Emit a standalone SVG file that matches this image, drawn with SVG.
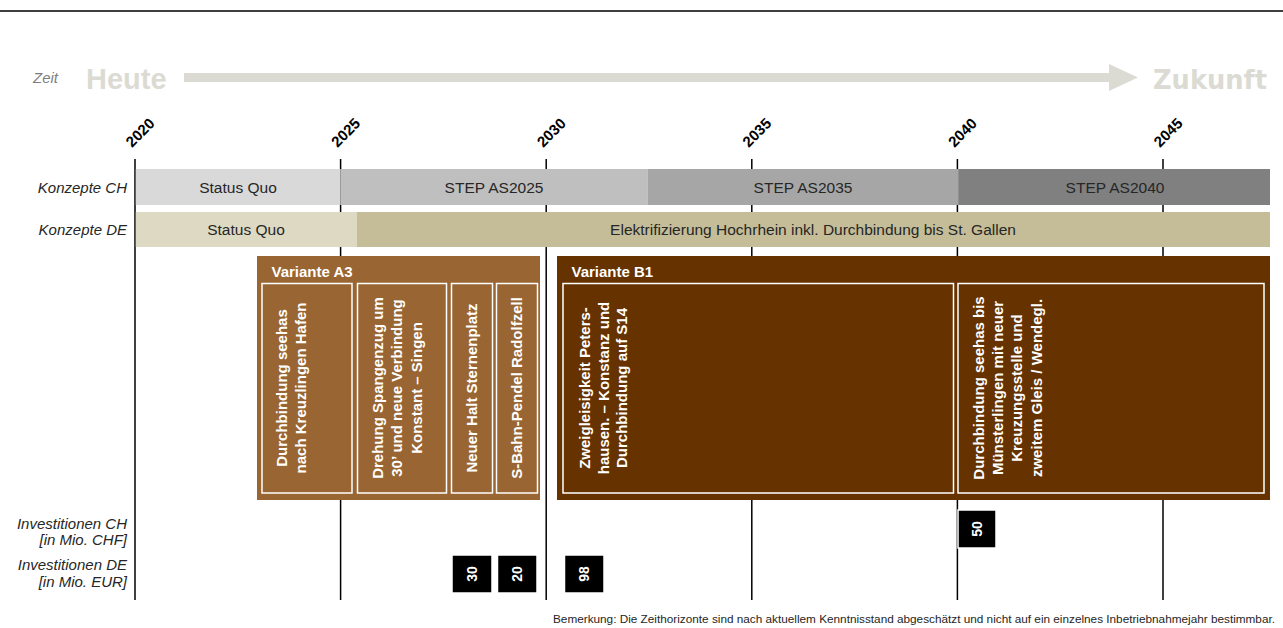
<svg xmlns="http://www.w3.org/2000/svg" width="1283" height="628" viewBox="0 0 1283 628">
  <style>
    .sans { font-family: "Liberation Sans", Arial, sans-serif; }
    .rowlabel { font-family: "Liberation Sans", Arial, sans-serif; font-style: italic; font-size: 15px; fill: #262626; text-anchor: end; }
    .year { font-family: "Liberation Sans", Arial, sans-serif; font-weight: bold; font-size: 15px; fill: #000; }
    .grid { stroke: #000; stroke-width: 1.5; }
    .bartext { font-family: "Liberation Sans", Arial, sans-serif; font-size: 15.5px; fill: #262626; text-anchor: middle; }
    .title { font-family: "Liberation Sans", Arial, sans-serif; font-weight: bold; font-size: 15px; fill: #fff; }
    .inner { fill: none; stroke: #fff; stroke-width: 1.5; }
    .vtext { font-family: "Liberation Sans", Arial, sans-serif; font-weight: bold; font-size: 15px; fill: #fff; text-anchor: middle; }
    .numbox { fill: #000; stroke: #fff; stroke-width: 1.5; }
    .numtext { font-family: "Liberation Sans", Arial, sans-serif; font-weight: bold; font-size: 14px; fill: #fff; text-anchor: middle; }
    .pale { fill: #dcdbd3; }
  </style>

  <rect width="1283" height="628" fill="#fff"/>

  <!-- header rule -->
  <line x1="0" y1="11" x2="1283" y2="11" stroke="#000" stroke-width="1.5"/>

  <!-- time axis: Heute -> Zukunft -->
  <g id="time-axis">
    <text x="33" y="83" class="sans" font-style="italic" font-size="15" fill="#7f7f7f">Zeit</text>
    <text x="86" y="88.5" class="sans pale" font-weight="bold" font-size="29">Heute</text>
    <text x="1153" y="88.5" class="pale" font-family="'DejaVu Sans', Verdana, sans-serif" font-weight="bold" font-size="27" textLength="114" lengthAdjust="spacingAndGlyphs">Zukunft</text>
  </g>

  <!-- connectors: axis arrow and year grid lines -->
  <g id="connectors">
    <rect x="184" y="73" width="926" height="9" class="pale"/>
    <polygon points="1109,64 1138,77.5 1109,91" class="pale"/>
    <line x1="135" y1="159" x2="135" y2="600" class="grid"/>
    <line x1="340.6" y1="159" x2="340.6" y2="600" class="grid"/>
    <line x1="546.2" y1="159" x2="546.2" y2="600" class="grid"/>
    <line x1="751.8" y1="159" x2="751.8" y2="600" class="grid"/>
    <line x1="957.4" y1="159" x2="957.4" y2="600" class="grid"/>
    <line x1="1163" y1="159" x2="1163" y2="600" class="grid"/>
  </g>

  <!-- year labels -->
  <g id="years">
    <text class="year" transform="translate(132,148) rotate(-45)">2020</text>
    <text class="year" transform="translate(337.6,148) rotate(-45)">2025</text>
    <text class="year" transform="translate(543.2,148) rotate(-45)">2030</text>
    <text class="year" transform="translate(748.8,148) rotate(-45)">2035</text>
    <text class="year" transform="translate(954.4,148) rotate(-45)">2040</text>
    <text class="year" transform="translate(1160,148) rotate(-45)">2045</text>
  </g>

  <!-- row labels -->
  <g id="row-labels">
    <text x="127" y="193" class="rowlabel">Konzepte CH</text>
    <text x="127" y="235" class="rowlabel">Konzepte DE</text>
    <text x="127" y="529" class="rowlabel">Investitionen CH</text>
    <text x="127" y="545" class="rowlabel">[in Mio. CHF]</text>
    <text x="127" y="570" class="rowlabel">Investitionen DE</text>
    <text x="127" y="586.5" class="rowlabel">[in Mio. EUR]</text>
  </g>

  <!-- Konzepte CH -->
  <g id="ch-status-quo">
    <rect x="135.8" y="169" width="204.8" height="36" fill="#d9d9d9"/>
    <text x="238" y="192.5" class="bartext">Status Quo</text>
  </g>
  <g id="ch-step-as2025">
    <rect x="340.6" y="169" width="306.9" height="36" fill="#bfbfbf"/>
    <text x="494" y="192.5" class="bartext">STEP AS2025</text>
  </g>
  <g id="ch-step-as2035">
    <rect x="647.5" y="169" width="310.7" height="36" fill="#a6a6a6"/>
    <text x="803" y="192.5" class="bartext">STEP AS2035</text>
  </g>
  <g id="ch-step-as2040">
    <rect x="958.2" y="169" width="311.8" height="36" fill="#808080"/>
    <text x="1115" y="192.5" class="bartext">STEP AS2040</text>
  </g>

  <!-- Konzepte DE -->
  <g id="de-status-quo">
    <rect x="135.8" y="212" width="221.2" height="35" fill="#ddd9c3"/>
    <text x="246" y="234.5" class="bartext">Status Quo</text>
  </g>
  <g id="de-elektrifizierung">
    <rect x="357" y="212" width="913" height="35" fill="#c4bd97"/>
    <text x="813" y="234.5" class="bartext">Elektrifizierung Hochrhein inkl. Durchbindung bis St. Gallen</text>
  </g>

  <!-- Variante A3 -->
  <g id="variante-a3">
    <rect x="257" y="256" width="283" height="244" fill="#996633"/>
    <text x="271.5" y="276.5" class="title">Variante A3</text>
    <rect x="262" y="283.5" width="90" height="209.5" class="inner"/>
    <text class="vtext" transform="translate(287.3,388) rotate(-90)"><tspan x="0" dy="0">Durchbindung seehas</tspan><tspan x="0" dy="18.8">nach Kreuzlingen Hafen</tspan></text>
    <rect x="357.5" y="283.5" width="89" height="209.5" class="inner"/>
    <text class="vtext" transform="translate(382.5,388) rotate(-90)"><tspan x="0" dy="0">Drehung Spangenzug um</tspan><tspan x="0" dy="19.5">30’ und neue Verbindung</tspan><tspan x="0" dy="19.5">Konstant – Singen</tspan></text>
    <rect x="451.5" y="283.5" width="41" height="209.5" class="inner"/>
    <text class="vtext" transform="translate(477.3,388) rotate(-90)">Neuer Halt Sternenplatz</text>
    <rect x="496.5" y="283.5" width="41" height="209.5" class="inner"/>
    <text class="vtext" transform="translate(522.3,388) rotate(-90)">S-Bahn-Pendel Radolfzell</text>
  </g>

  <!-- Variante B1 -->
  <g id="variante-b1">
    <rect x="557" y="256" width="713" height="244" fill="#663300"/>
    <text x="571.5" y="276.5" class="title">Variante B1</text>
    <rect x="563" y="283.5" width="390.5" height="209.5" class="inner"/>
    <text class="vtext" transform="translate(590.3,388) rotate(-90)"><tspan x="0" dy="0">Zweigleisigkeit  Peters-</tspan><tspan x="0" dy="18.4">hausen. – Konstanz und</tspan><tspan x="0" dy="18.4">Durchbindung auf S14</tspan></text>
    <rect x="958" y="283.5" width="306" height="209.5" class="inner"/>
    <text class="vtext" transform="translate(983.7,388) rotate(-90)"><tspan x="0" dy="0">Durchbindung seehas bis</tspan><tspan x="0" dy="19.4">Münsterlingen mit neuer</tspan><tspan x="0" dy="19.4">Kreuzungsstelle und</tspan><tspan x="0" dy="19.4">zweitem Gleis / Wendegl.</tspan></text>
  </g>

  <!-- investment amounts -->
  <g id="invest-ch-50">
    <rect x="958" y="510" width="38" height="38" class="numbox"/>
    <text class="numtext" transform="translate(982,529) rotate(-90)">50</text>
  </g>
  <g id="invest-de-30">
    <rect x="452" y="555" width="40" height="38" class="numbox"/>
    <text class="numtext" transform="translate(477,574) rotate(-90)">30</text>
  </g>
  <g id="invest-de-20">
    <rect x="497.5" y="555" width="39.5" height="38" class="numbox"/>
    <text class="numtext" transform="translate(522.3,574) rotate(-90)">20</text>
  </g>
  <g id="invest-de-98">
    <rect x="564.5" y="555" width="39.5" height="38" class="numbox"/>
    <text class="numtext" transform="translate(589.3,574) rotate(-90)">98</text>
  </g>

  <!-- footnote -->
  <text x="553" y="623" class="sans" font-size="11.5" fill="#262626" textLength="722" lengthAdjust="spacingAndGlyphs">Bemerkung: Die Zeithorizonte sind nach aktuellem Kenntnisstand abgeschätzt und nicht auf ein einzelnes Inbetriebnahmejahr bestimmbar.</text>
</svg>
